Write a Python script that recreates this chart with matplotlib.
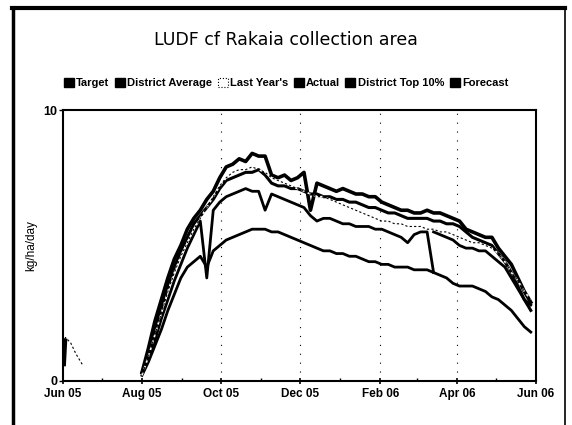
import datetime as dt
import matplotlib
matplotlib.use("Agg")
import matplotlib.pyplot as plt
import matplotlib.dates as mdates
from matplotlib.patches import Patch
from matplotlib.lines import Line2D

plt.rcParams['font.family'] = ['Liberation Sans Narrow', 'Liberation Sans', 'DejaVu Sans']

# every 5 days from 1 Aug 2005 to 28 May 2006
start = dt.date(2005, 8, 1)
days = [start + dt.timedelta(days=5 * k) for k in range(61)]

top10 = [0.3, 1.2, 2.2, 3.0, 3.8, 4.5, 5.0, 5.6, 6.0, 6.3,
         6.7, 7.0, 7.5, 7.9, 8.0, 8.2, 8.1, 8.4, 8.3, 8.3,
         7.6, 7.5, 7.6, 7.4, 7.5, 7.7, 6.3, 7.3, 7.2, 7.1,
         7.0, 7.1, 7.0, 6.9, 6.9, 6.8, 6.8, 6.6, 6.5, 6.4,
         6.3, 6.3, 6.2, 6.2, 6.3, 6.2, 6.2, 6.1, 6.0, 5.9,
         5.6, 5.5, 5.4, 5.3, 5.3, 4.9, 4.6, 4.3, 3.8, 3.3, 2.9]
target = [0.3, 1.0, 1.9, 2.7, 3.5, 4.2, 4.8, 5.3, 5.8, 6.1,
          6.4, 6.7, 7.1, 7.4, 7.5, 7.6, 7.7, 7.7, 7.8, 7.6,
          7.3, 7.2, 7.2, 7.1, 7.1, 7.0, 6.9, 6.9, 6.8, 6.8,
          6.7, 6.7, 6.6, 6.6, 6.5, 6.4, 6.4, 6.3, 6.2, 6.2,
          6.1, 6.0, 6.0, 6.0, 6.0, 5.9, 5.9, 5.8, 5.8, 5.7,
          5.5, 5.3, 5.2, 5.1, 5.0, 4.7, 4.4, 4.0, 3.5, 3.0, 2.6]
last_year = [0.2, 0.9, 1.7, 2.5, 3.3, 4.0, 4.6, 5.1, 5.6, 6.0,
             6.4, 6.8, 7.2, 7.5, 7.7, 7.8, 7.8, 7.9, 7.8, 7.7,
             7.5, 7.4, 7.3, 7.2, 7.1, 7.0, 6.9, 6.8, 6.8, 6.7,
             6.6, 6.5, 6.4, 6.3, 6.2, 6.1, 6.0, 5.9, 5.9, 5.8,
             5.8, 5.7, 5.7, 5.7, 5.6, 5.6, 5.5, 5.5, 5.4, 5.3,
             5.2, 5.1, 5.1, 5.0, 4.9, 4.7, 4.4, 4.0, 3.7, 3.3, 3.0]
actual = [0.3, 0.8, 1.5, 2.3, 3.0, 3.7, 4.3, 4.9, 5.4, 5.9,
          3.8, 6.3, 6.6, 6.8, 6.9, 7.0, 7.1, 7.0, 7.0, 6.3,
          6.9, 6.8, 6.7, 6.6, 6.5, 6.4, 6.1, 5.9, 6.0, 6.0,
          5.9, 5.8, 5.8, 5.7, 5.7, 5.7, 5.6, 5.6, 5.5, 5.4,
          5.3, 5.1, 5.4, 5.5, 5.5, 4.0]
forecast = [5.5, 5.4, 5.3, 5.2, 5.0, 4.9, 4.9, 4.8, 4.8, 4.6,
            4.4, 4.2, 3.8, 3.4, 3.0, 2.8]
district_avg = [0.2, 0.7, 1.3, 1.9, 2.6, 3.2, 3.8, 4.2, 4.4, 4.6,
                4.2, 4.8, 5.0, 5.2, 5.3, 5.4, 5.5, 5.6, 5.6, 5.6,
                5.5, 5.5, 5.4, 5.3, 5.2, 5.1, 5.0, 4.9, 4.8, 4.8,
                4.7, 4.7, 4.6, 4.6, 4.5, 4.4, 4.4, 4.3, 4.3, 4.2,
                4.2, 4.2, 4.1, 4.1, 4.1, 4.0, 3.9, 3.8, 3.6, 3.5,
                3.5, 3.5, 3.4, 3.3, 3.1, 3.0, 2.8, 2.6, 2.3, 2.0, 1.8]

# short bits at the start of June 2005
june_days = [dt.date(2005, 6, 1), dt.date(2005, 6, 3), dt.date(2005, 6, 7),
             dt.date(2005, 6, 11), dt.date(2005, 6, 16)]
june_last_year = [1.4, 1.6, 1.4, 1.0, 0.6]
june_actual_days = [dt.date(2005, 6, 2), dt.date(2005, 6, 3)]
june_actual = [0.6, 1.5]

grid_months = [dt.date(2005, 10, 1), dt.date(2005, 12, 1), dt.date(2006, 2, 1), dt.date(2006, 4, 1)]

fig = plt.figure(figsize=(5.72, 4.25), dpi=100)
ax = fig.add_axes([0.110, 0.104, 0.827, 0.637])

for g in grid_months:
    ax.axvline(g, color='black', lw=0.8, ls=(0, (1, 7)), zorder=0)

ax.plot(days, district_avg, color='black', lw=2.0)
ax.plot(days[:len(actual)], actual, color='black', lw=2.0)
ax.plot(days[45:], forecast, color='black', lw=2.0)
ax.plot(days, target, color='black', lw=2.2)
ax.plot(days, top10, color='black', lw=2.6)
ax.plot(days, last_year, color='white', lw=1.2, ls=(0, (2, 2)))
ax.plot(days, last_year, color='black', lw=0.8, ls=(2, (2, 2)))
ax.plot(june_days, june_last_year, color='black', lw=0.8, ls=(0, (2, 2)))
ax.plot(june_actual_days, june_actual, color='black', lw=2.5)

ax.set_xlim(dt.date(2005, 6, 1), dt.date(2006, 6, 1))
ax.set_ylim(0, 10)
ax.set_yticks([0, 10])
ax.set_yticklabels(['0', '10'], fontsize=9, fontweight='bold')
ax.set_ylabel('kg/ha/day', fontsize=8.5)
ax.yaxis.set_label_coords(-0.055, 0.5)

ax.xaxis.set_major_locator(mdates.MonthLocator(bymonth=[2, 4, 6, 8, 10, 12]))
ax.xaxis.set_minor_locator(mdates.MonthLocator())
ax.xaxis.set_major_formatter(mdates.DateFormatter('%b %y'))
for lab in ax.get_xticklabels():
    lab.set_fontsize(8.5)
    lab.set_fontweight('bold')
ax.tick_params(axis='x', which='major', length=4, width=1.2, direction='inout', pad=3)
ax.tick_params(axis='x', which='minor', length=2, width=1.0, direction='in')
ax.tick_params(axis='y', length=3, width=1.0, pad=1)

for sp in ax.spines.values():
    sp.set_linewidth(1.5)

fig.text(0.5, 0.905, 'LUDF cf Rakaia collection area', ha='center', va='center',
         fontsize=12.5, family=['DejaVu Sans'])

names = ['Target', 'District Average', "Last Year's", 'Actual', 'District Top 10%', 'Forecast']
handles = []
for n in names:
    if n == "Last Year's":
        handles.append(Patch(facecolor='white', edgecolor='black', linestyle=':', lw=0.8))
    else:
        handles.append(Patch(facecolor='black', edgecolor='black'))
fig.legend(handles, names, loc='center', bbox_to_anchor=(0.5, 0.805), ncol=6,
           frameon=False, prop={'weight': 'bold', 'size': 8},
           handlelength=0.9, handleheight=0.9, handletextpad=0.2, columnspacing=0.5)

# outer border of the scanned frame
fig.add_artist(Line2D([0.022, 0.022], [0.0, 0.982], color='black', lw=2.5, transform=fig.transFigure))
fig.add_artist(Line2D([0.021, 0.988], [0.981, 0.981], color='black', lw=3.0, transform=fig.transFigure))
fig.add_artist(Line2D([0.988, 0.988], [0.0, 0.981], color='black', lw=1.2, transform=fig.transFigure))

fig.savefig('out.png', dpi=100)
